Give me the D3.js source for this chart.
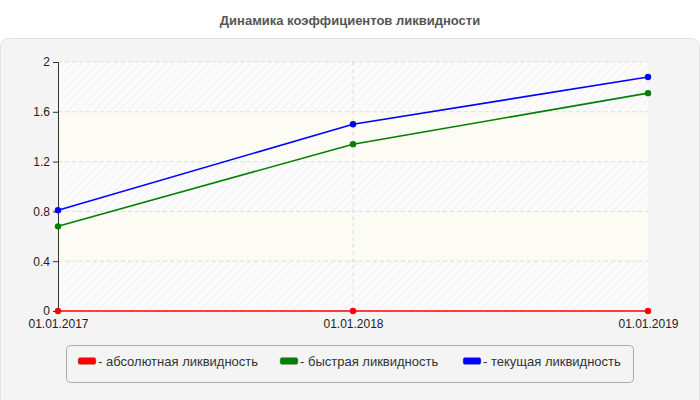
<!DOCTYPE html>
<html><head><meta charset="utf-8">
<script src="https://cdn.jsdelivr.net/npm/d3@7"></script>
<style>body{margin:0;background:#fff}svg{font-family:Arial,"Liberation Sans",sans-serif}</style>
</head><body><div id="chart"></div>
<script>
var dates = ['01.01.2017', '01.01.2018', '01.01.2019'];
var absolute = [0, 0, 0];
var quick = [0.68, 1.34, 1.75];
var current = [0.81, 1.50, 1.88];
var yTicks = [0, 0.4, 0.8, 1.2, 1.6, 2];
var seriesNames = ['- абсолютная ликвидность', '- быстрая ликвидность', '- текущая ликвидность'];
var colors = ['#ff0000', '#008000', '#0000ff'];

(function () {
var svg = d3.select('#chart').append('svg').attr('width', 700).attr('height', 400);

svg.append('text').attr('x', 350).attr('y', 25).attr('text-anchor', 'middle')
    .attr('font-size', 13).attr('font-weight', 'bold').attr('fill', '#555')
    .text('Динамика коэффициентов ликвидности');

svg.append('rect').attr('x', 0.5).attr('y', 38.5).attr('width', 699).attr('height', 370)
    .attr('rx', 8).attr('fill', '#f4f4f4').attr('stroke', '#e2e2e2');

var pLeft = 58, pRight = 648, pTop = 62, pBottom = 311;
var x = d3.scalePoint().domain(dates).range([pLeft, pRight]);
var y = d3.scaleLinear().domain([0, 2]).range([pBottom, pTop]);

var defs = svg.append('defs');
var pat = defs.append('pattern').attr('id', 'hatch').attr('width', 6).attr('height', 6)
    .attr('patternUnits', 'userSpaceOnUse').attr('patternTransform', 'rotate(45)');
pat.append('rect').attr('width', 6).attr('height', 6).attr('fill', '#fbfbfb');
pat.append('line').attr('x1', 0).attr('y1', 0).attr('x2', 0).attr('y2', 6).attr('stroke', '#f0f0f0').attr('stroke-width', 1.5);

// alternating bands
yTicks.slice(0, -1).forEach(function (t, i) {
    svg.append('rect').attr('x', pLeft).attr('y', y(t + 0.4)).attr('width', pRight - pLeft)
        .attr('height', y(t) - y(t + 0.4)).attr('fill', i % 2 ? '#fcfcf4' : 'url(#hatch)');
});
// grid
svg.selectAll('.hg').data(yTicks.slice(1)).enter().append('line')
    .attr('x1', pLeft).attr('x2', pRight).attr('y1', d => y(d)).attr('y2', d => y(d))
    .attr('stroke', '#ddd').attr('stroke-dasharray', '4,3');
svg.append('line').attr('x1', x(dates[1])).attr('x2', x(dates[1])).attr('y1', pTop).attr('y2', pBottom)
    .attr('stroke', '#ddd').attr('stroke-dasharray', '4,3');

// axes
var yAxis = svg.append('g').attr('transform', 'translate(' + pLeft + ',0)')
    .call(d3.axisLeft(y).tickValues(yTicks).tickFormat(d3.format('')).tickSize(5).tickPadding(3));
var xAxis = svg.append('g').attr('transform', 'translate(0,' + pBottom + ')')
    .call(d3.axisBottom(x).tickSize(0).tickPadding(8));
[yAxis, xAxis].forEach(function (a) {
    a.select('.domain').attr('stroke', '#333');
    a.selectAll('line').attr('stroke', '#333');
    a.selectAll('text').attr('font-size', 12).attr('fill', '#222').attr('font-family', 'Arial,"Liberation Sans",sans-serif');
});
xAxis.select('.domain').remove();

[absolute, quick, current].forEach(function (vals, i) {
    var line = d3.line().x((d, j) => x(dates[j])).y(d => y(d));
    svg.append('path').datum(vals).attr('d', line).attr('fill', 'none')
        .attr('stroke', colors[i]).attr('stroke-width', 1.6);
    svg.selectAll('.pt' + i).data(vals).enter().append('circle')
        .attr('cx', (d, j) => x(dates[j])).attr('cy', d => y(d)).attr('r', 3.2).attr('fill', colors[i]);
});

// legend
svg.append('rect').attr('x', 66.5).attr('y', 345.5).attr('width', 567).attr('height', 37)
    .attr('rx', 4).attr('fill', '#f4f4f4').attr('stroke', '#aaa');
var legX = [78, 280, 463];
var leg = svg.selectAll('.leg').data(seriesNames).enter().append('g')
    .attr('transform', (d, i) => 'translate(' + legX[i] + ',361)');
leg.append('rect').attr('width', 18).attr('height', 7).attr('rx', 2).attr('y', -3.5)
    .attr('fill', (d, i) => colors[i]).attr('stroke', '#999').attr('stroke-width', 0.5);
leg.append('text').attr('x', 20).attr('y', 4.5).attr('font-size', 13).attr('fill', '#333').text(d => d);
})();
</script></body></html>
